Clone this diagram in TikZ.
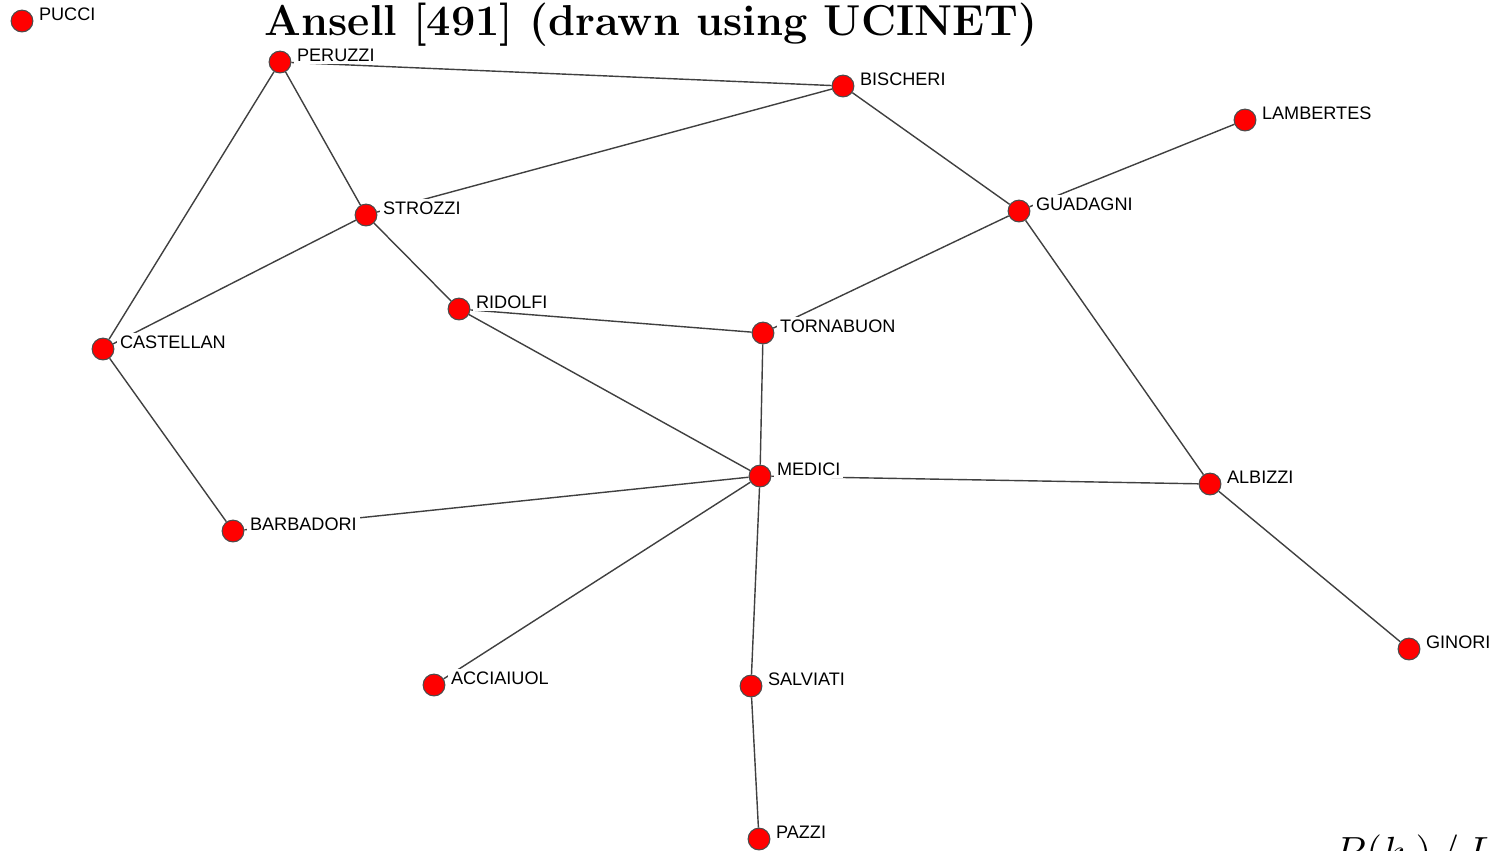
\documentclass[tikz,border=0pt]{standalone}
\usepackage{fontspec}
\newfontfamily\ucifont{Liberation Sans}
\pgfdeclarelayer{bg}
\pgfsetlayers{bg,main}
\begin{document}
\begin{tikzpicture}[x=0.01cm,y=-0.01cm,line join=round,line cap=round,label distance=0.6pt,
	actor/.style={circle,fill=red,draw=black!70,line width=0.3pt,inner sep=0pt,minimum size=6.2pt},
	tie/.style={black!75,line width=0.4pt},
	tag/.style={fill=white,inner sep=0.8pt,font=\ucifont\fontsize{5.15}{6}\selectfont,yshift=2pt}]
	\useasboundingbox (0,0) rectangle (1497,850);
	\node[font=\bfseries\fontsize{12.3}{14}\selectfont,anchor=base] (title) at (651,35) {Ansell [491] (drawn using UCINET)};
	\foreach \n/\x/\y in {PUCCI/22/21,PERUZZI/280/62,BISCHERI/843/86,LAMBERTES/1245/120,GUADAGNI/1019/211,
		STROZZI/366/215,RIDOLFI/459/309,TORNABUON/763/333,CASTELLAN/103/349,MEDICI/760/476,ALBIZZI/1210/484,
		BARBADORI/233/531,GINORI/1409/649,ACCIAIUOL/434/685,SALVIATI/751/686,PAZZI/759/839}
		\node[actor,label={[tag]east:\n}] (\n) at (\x,\y) {};
	\begin{pgfonlayer}{bg}
		\foreach \a/\b in {PERUZZI/BISCHERI,PERUZZI/STROZZI,PERUZZI/CASTELLAN,BISCHERI/STROZZI,BISCHERI/GUADAGNI,
			LAMBERTES/GUADAGNI,GUADAGNI/TORNABUON,GUADAGNI/ALBIZZI,STROZZI/CASTELLAN,STROZZI/RIDOLFI,
			RIDOLFI/TORNABUON,RIDOLFI/MEDICI,TORNABUON/MEDICI,CASTELLAN/BARBADORI,MEDICI/BARBADORI,
			MEDICI/ALBIZZI,MEDICI/ACCIAIUOL,MEDICI/SALVIATI,ALBIZZI/GINORI,SALVIATI/PAZZI}
			\draw[tie] (\a)--(\b);
	\end{pgfonlayer}
	\node[font=\fontsize{12}{14}\selectfont,anchor=base west,inner sep=0pt] (ratio) at (1333,866) {$P(k_i)\,/\,L$};
\end{tikzpicture}
\end{document}
